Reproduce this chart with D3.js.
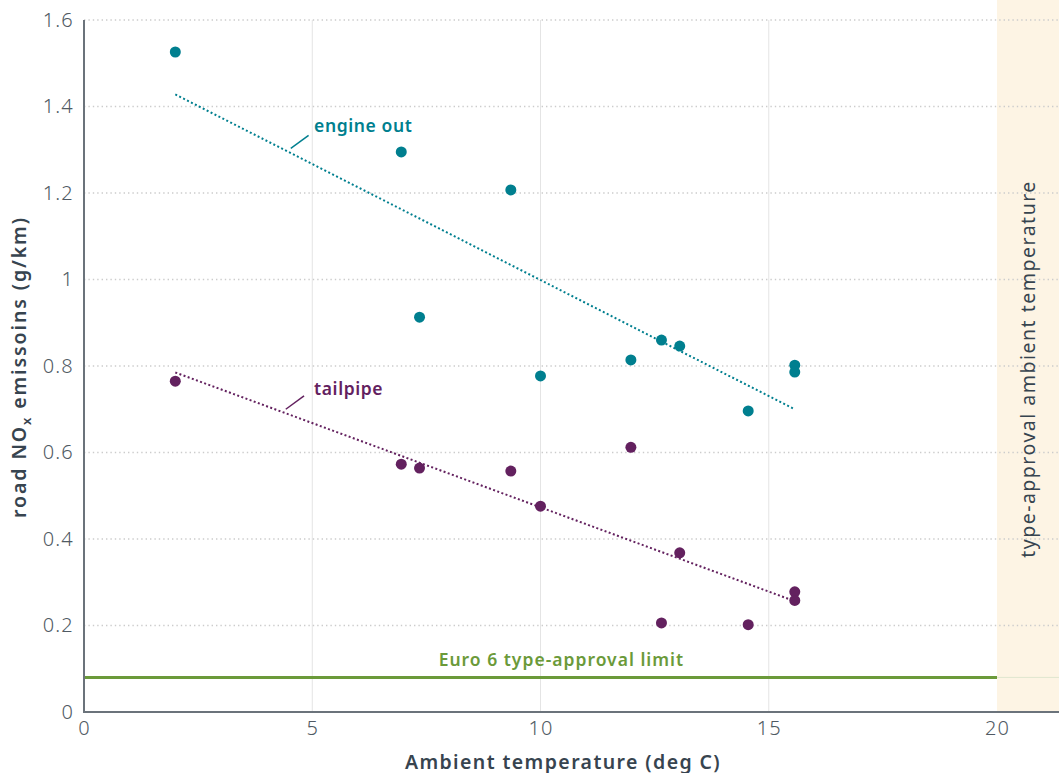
<!DOCTYPE html>
<html>
<head>
<meta charset="utf-8">
<script src="https://cdn.jsdelivr.net/npm/d3@7"></script>
<style>
  html, body { margin: 0; padding: 0; background: #fff; }
  svg { display: block; font-family: "Noto Sans", "DejaVu Sans", sans-serif; }
</style>
</head>
<body>
<svg id="chart" width="1059" height="773"></svg>
<script>
// Ambient temperature (deg C) for each test
const temperature = [2.0, 6.95, 7.35, 9.35, 10.0, 11.98, 12.65, 13.05, 14.55, 15.57, 15.57];
// Road NOx emissions (g/km)
const engineOut = [1.526, 1.295, 0.913, 1.207, 0.777, 0.814, 0.860, 0.846, 0.696, 0.802, 0.786];
const tailpipe  = [0.765, 0.573, 0.564, 0.557, 0.476, 0.612, 0.206, 0.368, 0.202, 0.278, 0.258];
// Linear trend end points [temperature, emissions]
const engineTrend   = [[2.0, 1.428], [15.55, 0.701]];
const tailpipeTrend = [[2.0, 0.785], [15.55, 0.257]];
// Euro 6 limit (g/km) and type-approval temperature lower bound (deg C)
const euro6Limit = 0.08;
const typeApprovalTemp = 20;
// Axis ticks
const xTicks = [0, 5, 10, 15, 20];
const yTicks = [0, 0.2, 0.4, 0.6, 0.8, 1, 1.2, 1.4, 1.6];
const yTickLabels = ["0", "0.2", "0.4", "0.6", "0.8", "1", "1.2", "1.4", "1.6"];

const W = 1059, H = 773;
const margin = { left: 84, top: 20, bottom: 61 };
const svg = d3.select("#chart");

const x = d3.scaleLinear().domain([0, 20]).range([margin.left, 997]);
const y = d3.scaleLinear().domain([0, 1.6]).range([H - margin.bottom, margin.top]);

const TEAL = "#007f8f", PURPLE = "#63215f", GREEN = "#6b9a3a";
const AXIS = "#6b737b", TICKTXT = "#505a63", DARK = "#37444f";

// type-approval temperature band
svg.append("rect")
  .attr("x", x(typeApprovalTemp)).attr("y", 0)
  .attr("width", W - x(typeApprovalTemp)).attr("height", y(0))
  .attr("fill", "#fdf4e4");

// vertical gridlines
svg.append("g").selectAll("line")
  .data(xTicks.filter(d => d > 0 && d < 20)).join("line")
  .attr("x1", d => x(d)).attr("x2", d => x(d))
  .attr("y1", y(1.6)).attr("y2", y(0))
  .attr("stroke", "#e4e4e4").attr("stroke-width", 1);

// horizontal dotted gridlines
svg.append("g").selectAll("line")
  .data(yTicks.filter(d => d > 0)).join("line")
  .attr("x1", x(0)).attr("x2", W)
  .attr("y1", d => y(d)).attr("y2", d => y(d))
  .attr("stroke", "#cccccc").attr("stroke-width", 1.4)
  .attr("stroke-dasharray", "1.4 3");

// Euro 6 limit line
svg.append("line")
  .attr("x1", x(0)).attr("x2", x(typeApprovalTemp))
  .attr("y1", y(euro6Limit)).attr("y2", y(euro6Limit))
  .attr("stroke", GREEN).attr("stroke-width", 3);
svg.append("line")
  .attr("x1", x(typeApprovalTemp)).attr("x2", W)
  .attr("y1", y(euro6Limit)).attr("y2", y(euro6Limit))
  .attr("stroke", "#dfe6cf").attr("stroke-width", 1);
svg.append("text")
  .attr("x", x(7.77)).attr("y", y(euro6Limit) - 11)
  .attr("fill", GREEN).attr("font-size", 17.5).attr("font-weight", 600)
  .attr("letter-spacing", 1)
  .text("Euro 6 type-approval limit");

// axes
const xAxis = d3.axisBottom(x).tickValues(xTicks).tickSize(0).tickPadding(9);
const gx = svg.append("g").attr("transform", `translate(0,${y(0)})`).call(xAxis);
gx.select(".domain").remove();
gx.selectAll("text").attr("font-size", 20).attr("fill", TICKTXT)
  .attr("font-family", "'Noto Sans', sans-serif").attr("font-weight", 300)
  .attr("letter-spacing", 1.2);
svg.append("line")
  .attr("x1", x(0)).attr("x2", W).attr("y1", y(0)).attr("y2", y(0))
  .attr("stroke", AXIS).attr("stroke-width", 2);

const yAxis = d3.axisLeft(y).tickValues(yTicks).tickSize(0).tickPadding(10)
  .tickFormat((d, i) => yTickLabels[i]);
const gy = svg.append("g").attr("transform", `translate(${x(0)},0)`).call(yAxis);
gy.select(".domain").remove();
gy.selectAll("text").attr("font-size", 20).attr("fill", TICKTXT)
  .attr("font-family", "'Noto Sans', sans-serif").attr("font-weight", 300)
  .attr("letter-spacing", 1.2);
svg.append("line")
  .attr("x1", x(0)).attr("x2", x(0)).attr("y1", y(1.6)).attr("y2", y(0) + 1)
  .attr("stroke", AXIS).attr("stroke-width", 2);

// axis titles
svg.append("text")
  .attr("x", 563).attr("y", 769)
  .attr("text-anchor", "middle").attr("fill", DARK)
  .attr("font-size", 19.5).attr("font-weight", 600)
  .attr("letter-spacing", 1.4)
  .text("Ambient temperature (deg C)");

const yTitle = svg.append("text")
  .attr("transform", "translate(26,367) rotate(-90)")
  .attr("text-anchor", "middle").attr("fill", DARK)
  .attr("font-size", 19.5).attr("font-weight", 600)
  .attr("letter-spacing", 1.9);
yTitle.append("tspan").text("road NO");
yTitle.append("tspan").attr("font-size", 13).attr("dy", 5).text("x");
yTitle.append("tspan").attr("dy", -5).text(" emissoins (g/km)");

svg.append("text")
  .attr("transform", `translate(1035,369) rotate(-90)`)
  .attr("text-anchor", "middle").attr("fill", DARK)
  .attr("font-size", 19.5).attr("font-weight", 400)
  .attr("letter-spacing", 1.5)
  .text("type-approval ambient temperature");

// trend lines
const line = d3.line().x(d => x(d[0])).y(d => y(d[1]));
svg.append("path").datum(engineTrend).attr("d", line)
  .attr("fill", "none").attr("stroke", TEAL).attr("stroke-width", 2)
  .attr("stroke-dasharray", "2 2.4");
svg.append("path").datum(tailpipeTrend).attr("d", line)
  .attr("fill", "none").attr("stroke", PURPLE).attr("stroke-width", 2)
  .attr("stroke-dasharray", "2 2.4");

// data points
svg.append("g").selectAll("circle").data(temperature).join("circle")
  .attr("cx", d => x(d)).attr("cy", (d, i) => y(engineOut[i]))
  .attr("r", 5.5).attr("fill", TEAL);
svg.append("g").selectAll("circle").data(temperature).join("circle")
  .attr("cx", d => x(d)).attr("cy", (d, i) => y(tailpipe[i]))
  .attr("r", 5.5).attr("fill", PURPLE);

// series labels with leader lines
function seriesLabel(tx, ty, lx1, ly1, lx2, ly2, text, color) {
  svg.append("line")
    .attr("x1", x(lx1)).attr("y1", y(ly1)).attr("x2", x(lx2)).attr("y2", y(ly2))
    .attr("stroke", color).attr("stroke-width", 1.5);
  svg.append("text")
    .attr("x", x(tx)).attr("y", y(ty))
    .attr("fill", color).attr("font-size", 17.5).attr("font-weight", 600)
    .attr("letter-spacing", 0.6)
    .text(text);
}
seriesLabel(5.04, 1.34, 4.53, 1.303, 4.92, 1.333, "engine out", TEAL);
seriesLabel(5.04, 0.733, 4.42, 0.700, 4.82, 0.731, "tailpipe", PURPLE);
</script>
</body>
</html>
